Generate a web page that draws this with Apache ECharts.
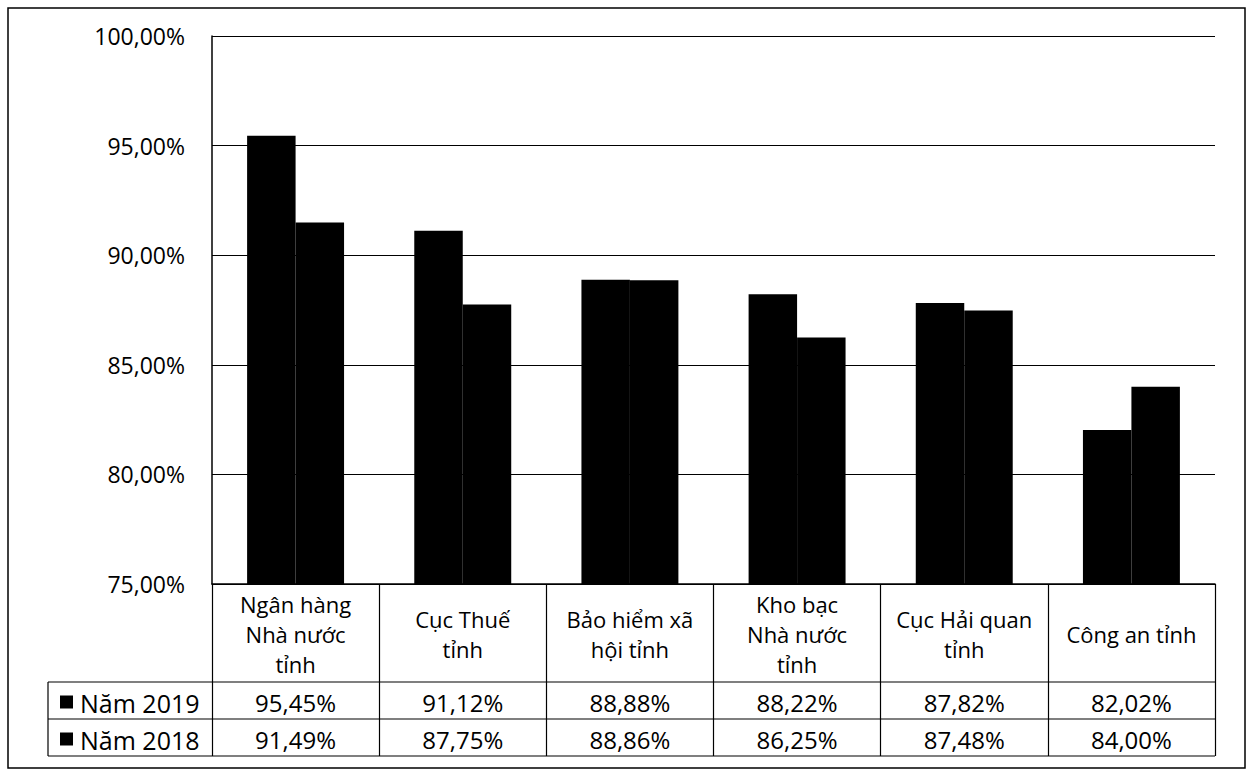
<!DOCTYPE html>
<html>
<head>
<meta charset="utf-8">
<script src="https://cdn.jsdelivr.net/npm/echarts@6/dist/echarts.min.js"></script>
<style>
html,body{margin:0;padding:0;background:#fff;}
#chart{width:1249px;height:773px;}
</style>
</head>
<body>
<div id="chart"></div>
<script>
var categories = ['Ngân hàng\nNhà nước\ntỉnh', 'Cục Thuế\ntỉnh', 'Bảo hiểm xã\nhội tỉnh', 'Kho bạc\nNhà nước\ntỉnh', 'Cục Hải quan\ntỉnh', 'Công an tỉnh'];
var seriesNames = ['Năm 2019', 'Năm 2018'];
var values2019 = [95.45, 91.12, 88.88, 88.22, 87.82, 82.02];
var values2018 = [91.49, 87.75, 88.86, 86.25, 87.48, 84.00];
var yTicks = [75, 80, 85, 90, 95, 100];

function fmt(v){ return v.toFixed(2).replace('.', ',') + '%'; }

var FONT = 'Open Sans';
var chart = echarts.init(document.getElementById('chart'), null, {renderer: 'svg'});

var tableTop = 584, row1 = 682, row2 = 719, row3 = 756, legendLeft = 48, tableRight = 1215;

var option = {
  backgroundColor: '#fff',
  animation: false,
  grid: {left: 212, right: 1249 - tableRight, top: 36, bottom: 773 - tableTop, containLabel: false},
  xAxis: [
    {
      type: 'category', data: categories, position: 'bottom',
      axisLine: {show: true, lineStyle: {color: '#000', width: 1.5}},
      axisTick: {show: true, length: row3 - tableTop, lineStyle: {color: '#000', width: 1.2}},
      axisLabel: {color: '#000', fontFamily: FONT, fontSize: 22, lineHeight: 30, margin: (row1 - tableTop) / 2 + 1, verticalAlign: 'middle', align: 'center', interval: 0}
    },
    {
      type: 'category', data: categories, position: 'bottom',
      axisLine: {show: false}, axisTick: {show: false},
      axisLabel: {color: '#000', fontFamily: FONT, fontSize: 24, margin: (row1 + row2) / 2 - tableTop + 2, verticalAlign: 'middle', interval: 0,
        formatter: function(v, i){ return fmt(values2019[i]); }}
    },
    {
      type: 'category', data: categories, position: 'bottom',
      axisLine: {show: false}, axisTick: {show: false},
      axisLabel: {color: '#000', fontFamily: FONT, fontSize: 24, margin: (row2 + row3) / 2 - tableTop + 2, verticalAlign: 'middle', interval: 0,
        formatter: function(v, i){ return fmt(values2018[i]); }}
    }
  ],
  yAxis: {
    type: 'value', min: yTicks[0], max: yTicks[yTicks.length - 1], interval: 5,
    axisLine: {show: true, lineStyle: {color: '#000', width: 1.5}},
    axisTick: {show: false},
    splitLine: {show: true, lineStyle: {color: '#000', width: 1.2}},
    axisLabel: {color: '#000', fontFamily: FONT, fontSize: 23, margin: 27,
      formatter: function(v){ return fmt(v); }}
  },
  series: [
    {name: seriesNames[0], type: 'bar', data: values2019, xAxisIndex: 0, barGap: '0%', barCategoryGap: '42%', itemStyle: {color: '#000'}},
    {name: seriesNames[1], type: 'bar', data: values2018, xAxisIndex: 0, barGap: '0%', barCategoryGap: '42%', itemStyle: {color: '#000'}}
  ],
  graphic: [
    {type: 'rect', shape: {x: 8, y: 8, width: 1237, height: 760}, style: {fill: 'none', stroke: '#000', lineWidth: 1.5}, silent: true},
    {type: 'line', shape: {x1: legendLeft, y1: row1, x2: tableRight, y2: row1}, style: {stroke: '#000', lineWidth: 1.2}},
    {type: 'line', shape: {x1: legendLeft, y1: row2, x2: tableRight, y2: row2}, style: {stroke: '#000', lineWidth: 1.2}},
    {type: 'line', shape: {x1: legendLeft, y1: row3, x2: tableRight, y2: row3}, style: {stroke: '#000', lineWidth: 1.2}},
    {type: 'line', shape: {x1: legendLeft, y1: row1, x2: legendLeft, y2: row3}, style: {stroke: '#000', lineWidth: 1.2}},
    {type: 'rect', shape: {x: 60, y: (row1 + row2) / 2 - 5, width: 13, height: 13}, style: {fill: '#000'}},
    {type: 'rect', shape: {x: 60, y: (row2 + row3) / 2 - 5, width: 13, height: 13}, style: {fill: '#000'}},
    {type: 'text', x: 80, y: (row1 + row2) / 2 + 2, style: {text: seriesNames[0], font: '25px "' + FONT + '"', fill: '#000', verticalAlign: 'middle'}},
    {type: 'text', x: 80, y: (row2 + row3) / 2 + 2, style: {text: seriesNames[1], font: '25px "' + FONT + '"', fill: '#000', verticalAlign: 'middle'}}
  ]
};
chart.setOption(option);
</script>
</body>
</html>
